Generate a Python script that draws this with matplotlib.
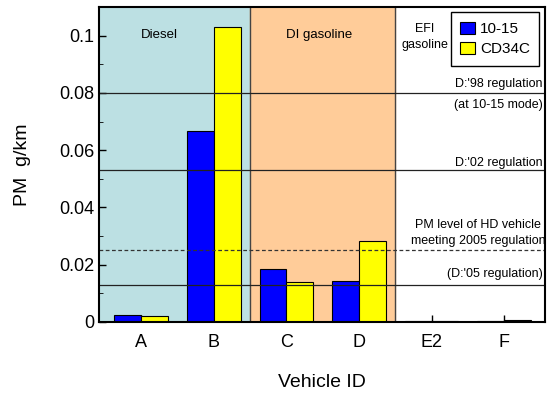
import matplotlib
matplotlib.use("Agg")
import matplotlib.pyplot as plt
import numpy as np
from matplotlib.patches import Patch

plt.rcParams["font.family"] = ["Liberation Sans", "DejaVu Sans"]

vehicles = ["A", "B", "C", "D", "E2", "F"]
pm_1015 = [0.0023, 0.0668, 0.0184, 0.0143, 0.0004, 0.0003]
pm_cd34c = [0.0020, 0.1031, 0.0139, 0.0282, 0.0004, 0.0008]

regulation_98 = 0.080
regulation_02 = 0.053
hd_2005_level = 0.025
regulation_05 = 0.013

yticks = [0, 0.02, 0.04, 0.06, 0.08, 0.1]
ytick_labels = ["0", "0.02", "0.04", "0.06", "0.08", "0.1"]

fig = plt.figure(figsize=(5.48, 3.94), dpi=100)
ax = fig.add_axes([0.181, 0.183, 0.813, 0.799])

x = np.arange(len(vehicles))
xmin, xmax = -0.58, 5.56

# fuel-type background bands
ax.axvspan(xmin, 1.5, color="#bce0e3", zorder=0)
ax.axvspan(1.5, 3.5, color="#ffcc99", zorder=0)
ax.axvline(1.5, color="#444444", lw=1, zorder=1)
ax.axvline(3.5, color="#444444", lw=1, zorder=1)

w = 0.37
ax.bar(x - w / 2, pm_1015, w, color="#0000ff", edgecolor="black", lw=0.8, zorder=2, label="10-15")
ax.bar(x + w / 2, pm_cd34c, w, color="#ffff00", edgecolor="black", lw=0.8, zorder=2, label="CD34C")

# regulation levels
for lvl in [regulation_98, regulation_02, regulation_05]:
    ax.axhline(lvl, color="#222222", lw=0.9, zorder=3)
ax.axhline(hd_2005_level, color="#333333", lw=0.9, ls=(0, (3, 2)), zorder=3)

ax.set_xlim(xmin, xmax)
ax.set_ylim(0, 0.11)
ax.set_xticks(x)
ax.set_xticklabels(vehicles)
ax.set_yticks(yticks)
ax.set_yticklabels(ytick_labels)
ax.set_yticks(np.arange(0.01, 0.11, 0.02), minor=True)
ax.tick_params(axis="both", direction="in", labelsize=13, length=5, width=1)
ax.tick_params(axis="y", which="minor", direction="in", length=3)
ax.tick_params(axis="x", pad=9)
for s in ax.spines.values():
    s.set_linewidth(1.5)
    s.set_zorder(5)

ax.set_ylabel("PM  g/km", fontsize=14, labelpad=20)
ax.set_xlabel("Vehicle ID", fontsize=14, labelpad=16)

fs = 9.5
rs = 9
ax.text(0.25, 0.1002, "Diesel", fontsize=fs, ha="center", va="center")
ax.text(2.45, 0.1002, "DI gasoline", fontsize=fs, ha="center", va="center")
ax.text(3.91, 0.0995, "EFI\ngasoline", fontsize=9, ha="center", va="center", linespacing=1.5)
ax.text(5.53, 0.0810, "D:'98 regulation", fontsize=rs, ha="right", va="bottom")
ax.text(5.53, 0.0758, "(at 10-15 mode)", fontsize=rs, ha="right", va="center")
ax.text(5.53, 0.0556, "D:'02 regulation", fontsize=rs, ha="right", va="center")
ax.text(4.64, 0.0310, "PM level of HD vehicle\nmeeting 2005 regulation", fontsize=rs,
        ha="center", va="center", linespacing=1.5)
ax.text(5.53, 0.0168, "(D:'05 regulation)", fontsize=rs, ha="right", va="center")

handles = [Patch(facecolor="#0000ff", edgecolor="black", lw=0.8),
           Patch(facecolor="#ffff00", edgecolor="black", lw=0.8)]
leg = ax.legend(handles, ["10-15", "CD34C"], loc="upper right", bbox_to_anchor=(0.995, 0.993),
                fontsize=11, fancybox=False, framealpha=1, edgecolor="black",
                handlelength=0.95, handleheight=0.85, handletextpad=0.35,
                borderpad=0.6, borderaxespad=0.2, labelspacing=0.4)
leg.get_frame().set_linewidth(1)
leg.set_zorder(6)

fig.savefig("out.png", dpi=100)
